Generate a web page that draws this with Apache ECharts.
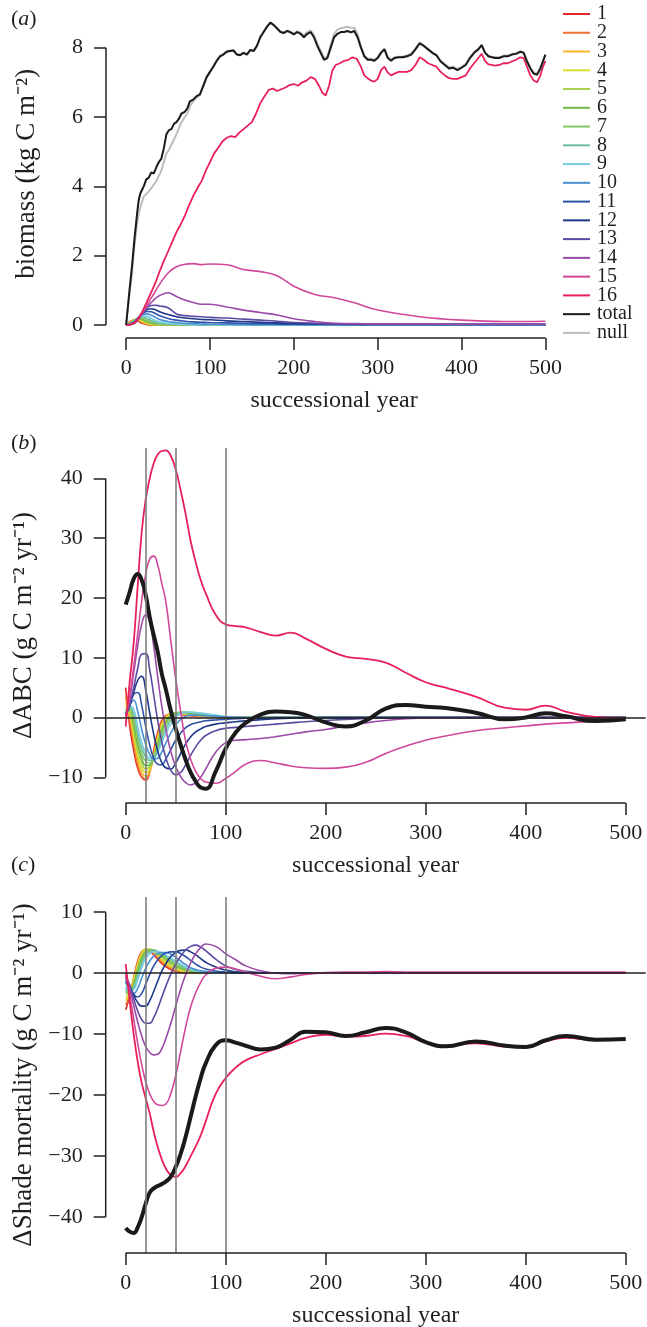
<!DOCTYPE html>
<html><head><meta charset="utf-8">
<script src="https://cdn.jsdelivr.net/npm/echarts@6/dist/echarts.min.js"></script>
<style>html,body{margin:0;padding:0;background:#fff}#c{width:647px;height:1327px}</style>
</head><body><div id="c"></div>
<script>
// ---------- categories / names ----------
const SERIES_NAMES = ['1','2','3','4','5','6','7','8','9','10','11','12','13','14','15','16'];
const LEGEND_NAMES = ['1','2','3','4','5','6','7','8','9','10','11','12','13','14','15','16','total','null'];
const COLORS = ['#e3262b','#ef6f33','#f4b42c','#dcdc2e','#a9d14f','#6fb744','#86c865','#6fbf9f','#79cde3','#4a8fd0','#2f52a8','#1f3887','#5a4aa1','#9a4aa8','#d1489b','#e8205a'];

// ---------- tick labels ----------
const X_TICKS = [0,100,200,300,400,500];
const Y_TICKS_A = [0,2,4,6,8];
const Y_TICKS_B = [-10,0,10,20,30,40];
const Y_TICKS_C = [-40,-30,-20,-10,0,10];
const V_LINES = [20,50,100];

// ---------- panel (a) biomass ----------
const A_YEARS = [0,5,10,15,20,25,30,35,40,50,60,70,80,90,100,120,140,160,180,200,225,250,275,300,350,400,450,500];
const A1 = [0,0.1,0.15,0.1,0.04,0.01,0,0,0,0,0,0,0,0,0,0,0,0,0,0,0,0,0,0,0,0,0,0];
const A2 = [0,0.09,0.16,0.12,0.06,0.02,0.01,0,0,0,0,0,0,0,0,0,0,0,0,0,0,0,0,0,0,0,0,0];
const A3 = [0,0.08,0.16,0.14,0.08,0.03,0.01,0.01,0,0,0,0,0,0,0,0,0,0,0,0,0,0,0,0,0,0,0,0];
const A4 = [0,0.07,0.15,0.16,0.1,0.05,0.02,0.01,0.01,0,0,0,0,0,0,0,0,0,0,0,0,0,0,0,0,0,0,0];
const A5 = [0,0.06,0.15,0.17,0.13,0.07,0.04,0.02,0.01,0.01,0,0,0,0,0,0,0,0,0,0,0,0,0,0,0,0,0,0];
const A6 = [0,0.05,0.14,0.18,0.16,0.1,0.06,0.03,0.02,0.01,0.01,0,0,0,0,0,0,0,0,0,0,0,0,0,0,0,0,0];
const A7 = [0,0.05,0.13,0.19,0.19,0.14,0.09,0.05,0.03,0.02,0.01,0.01,0,0,0,0,0,0,0,0,0,0,0,0,0,0,0,0];
const A8 = [0,0.04,0.12,0.2,0.23,0.19,0.13,0.08,0.05,0.03,0.02,0.01,0.01,0,0,0,0,0,0,0,0,0,0,0,0,0,0,0];
const A9 = [0,0.03,0.11,0.21,0.26,0.25,0.19,0.13,0.09,0.05,0.03,0.02,0.01,0.01,0.01,0,0,0,0,0,0,0,0,0,0,0,0,0];
const A10 = [0,0.03,0.1,0.22,0.3,0.32,0.28,0.22,0.16,0.1,0.07,0.05,0.04,0.03,0.02,0.02,0.01,0.01,0.01,0.01,0,0,0,0,0,0,0,0];
const A11 = [0,0.02,0.09,0.22,0.33,0.39,0.38,0.33,0.27,0.19,0.14,0.11,0.09,0.08,0.07,0.06,0.05,0.04,0.03,0.02,0.02,0.02,0.01,0.01,0.01,0.01,0.01,0.01];
const A12 = [0,0.02,0.08,0.22,0.36,0.45,0.47,0.44,0.38,0.3,0.24,0.2,0.18,0.16,0.15,0.12,0.1,0.08,0.06,0.05,0.04,0.03,0.02,0.02,0.02,0.02,0.02,0.02];
const A13 = [0,0.02,0.08,0.22,0.38,0.5,0.56,0.57,0.55,0.5,0.32,0.27,0.25,0.24,0.22,0.2,0.17,0.14,0.11,0.07,0.05,0.03,0.03,0.02,0.02,0.02,0.02,0.02];
const A14 = [0,0.01,0.05,0.18,0.35,0.52,0.65,0.77,0.85,0.93,0.82,0.72,0.65,0.6,0.6,0.52,0.43,0.36,0.29,0.18,0.1,0.05,0.04,0.03,0.03,0.02,0.02,0.02];
const A15 = [0,0.01,0.05,0.18,0.38,0.58,0.78,0.98,1.18,1.5,1.68,1.75,1.77,1.74,1.76,1.74,1.6,1.54,1.42,1.12,0.88,0.78,0.62,0.43,0.24,0.14,0.1,0.11];
const A16 = [[0,0],[5,0.01],[10,0.06],[15,0.2],[20,0.42],[25,0.68],[30,0.95],[35,1.22],[40,1.55],[45,1.85],[50,2.12],[55,2.4],[60,2.68],[65,2.9],[70,3.15],[75,3.45],[80,3.72],[85,3.95],[90,4.15],[95,4.45],[100,4.7],[105,4.95],[110,5.12],[115,5.3],[120,5.4],[125,5.45],[130,5.42],[135,5.55],[140,5.65],[145,5.75],[150,5.85],[155,6.1],[160,6.4],[165,6.6],[170,6.78],[175,6.82],[180,6.75],[185,6.8],[190,6.85],[195,6.92],[200,6.95],[205,6.9],[210,7.0],[215,7.05],[220,7.15],[225,7.1],[230,6.9],[234,6.7],[238,6.62],[242,6.9],[246,7.35],[250,7.5],[255,7.55],[260,7.62],[265,7.65],[270,7.72],[275,7.68],[280,7.45],[284,7.2],[288,7.12],[292,7.05],[296,7.02],[300,7.1],[304,7.35],[308,7.45],[312,7.28],[316,7.2],[320,7.25],[325,7.3],[330,7.3],[335,7.3],[340,7.35],[345,7.5],[350,7.72],[355,7.65],[360,7.55],[365,7.5],[370,7.45],[375,7.3],[380,7.2],[385,7.12],[390,7.1],[395,7.1],[400,7.15],[405,7.2],[410,7.4],[415,7.55],[420,7.7],[424,7.82],[428,7.62],[432,7.52],[436,7.5],[440,7.48],[445,7.5],[450,7.55],[455,7.55],[460,7.6],[465,7.65],[470,7.72],[474,7.7],[478,7.45],[482,7.2],[486,7.05],[490,7.0],[494,7.2],[497,7.45],[500,7.62]];
const TOTAL_A = [[0,0],[4,1.0],[7,1.7],[10,2.5],[13,3.2],[15,3.6],[17,3.8],[19,3.9],[21,4.0],[24,4.2],[27,4.25],[30,4.4],[33,4.37],[36,4.55],[39,4.7],[42,4.8],[45,5.1],[48,5.5],[51,5.62],[54,5.65],[57,5.8],[60,5.85],[63,5.95],[66,6.1],[70,6.15],[73,6.25],[76,6.45],[80,6.5],[84,6.6],[88,6.65],[92,6.9],[96,7.15],[100,7.3],[104,7.45],[108,7.62],[112,7.75],[116,7.8],[120,7.88],[124,7.9],[128,7.92],[132,7.8],[136,7.78],[140,7.85],[144,7.8],[148,7.93],[152,7.9],[156,8.05],[160,8.3],[164,8.45],[168,8.6],[172,8.72],[176,8.65],[180,8.55],[184,8.45],[188,8.42],[192,8.48],[196,8.44],[200,8.38],[204,8.45],[208,8.4],[212,8.3],[216,8.4],[220,8.45],[224,8.3],[228,8.05],[232,7.85],[236,7.65],[240,7.7],[244,8.0],[248,8.3],[252,8.4],[256,8.45],[260,8.45],[264,8.48],[268,8.44],[272,8.48],[276,8.3],[280,8.0],[284,7.75],[288,7.65],[292,7.65],[296,7.62],[300,7.7],[304,7.85],[308,7.95],[312,7.7],[316,7.62],[320,7.7],[325,7.72],[330,7.72],[335,7.75],[340,7.8],[345,7.95],[350,8.12],[355,8.05],[360,7.95],[365,7.85],[370,7.78],[375,7.6],[380,7.5],[385,7.4],[390,7.42],[395,7.35],[400,7.42],[405,7.5],[410,7.7],[415,7.85],[420,7.95],[424,8.07],[428,7.85],[432,7.75],[436,7.72],[440,7.7],[445,7.7],[450,7.75],[455,7.75],[460,7.8],[465,7.82],[470,7.88],[474,7.85],[478,7.6],[482,7.4],[486,7.25],[490,7.22],[494,7.4],[497,7.6],[500,7.8]];
const NULL_A = [[0,0],[4,0.9],[7,1.5],[10,2.3],[13,2.9],[15,3.2],[17,3.4],[19,3.55],[21,3.7],[24,3.78],[27,3.85],[30,3.95],[33,4.05],[36,4.15],[39,4.3],[42,4.45],[45,4.7],[48,4.95],[51,5.05],[54,5.2],[57,5.35],[60,5.5],[63,5.68],[66,5.85],[70,6.0],[73,6.1],[76,6.3],[80,6.45],[84,6.55],[88,6.63],[92,6.9],[96,7.15],[100,7.3],[104,7.47],[108,7.62],[112,7.77],[116,7.82],[120,7.9],[124,7.92],[128,7.93],[132,7.82],[136,7.8],[140,7.86],[144,7.82],[148,7.94],[152,7.92],[156,8.06],[160,8.32],[164,8.47],[168,8.62],[172,8.73],[176,8.66],[180,8.57],[184,8.47],[188,8.44],[192,8.5],[196,8.46],[200,8.4],[204,8.47],[208,8.43],[212,8.35],[216,8.45],[220,8.5],[224,8.36],[228,8.12],[232,7.92],[236,7.7],[240,7.75],[244,8.08],[248,8.4],[252,8.52],[256,8.56],[260,8.58],[264,8.6],[268,8.57],[272,8.58],[276,8.38],[280,8.05],[284,7.78],[288,7.68],[292,7.68],[296,7.65],[300,7.72],[304,7.88],[308,7.98],[312,7.74],[316,7.65],[320,7.72],[325,7.74],[330,7.74],[335,7.78],[340,7.83],[345,7.98],[350,8.15],[355,8.07],[360,7.97],[365,7.87],[370,7.8],[375,7.63],[380,7.53],[385,7.44],[390,7.45],[395,7.39],[400,7.45],[405,7.53],[410,7.72],[415,7.87],[420,7.97],[424,8.08],[428,7.87],[432,7.77],[436,7.74],[440,7.72],[445,7.72],[450,7.77],[455,7.77],[460,7.82],[465,7.84],[470,7.9],[474,7.87],[478,7.63],[482,7.43],[486,7.28],[490,7.25],[494,7.42],[497,7.62],[500,7.8]];

// ---------- panels (b) and (c): shared year grid ----------
const YB = [0,4,8,12,16,20,24,28,32,36,40,45,50,55,60,65,70,75,80,90,100,110,120,135,150,165,180,200,220,240,260,280,300,320,350,380,400,420,440,470,500];
// (b) delta ABC
const B1 = [5.0,-1.5,-5.5,-8.5,-10.0,-10.5,-9.0,-5.5,-2.5,-0.5,0.3,0.6,0.6,0.5,0.4,0.3,0.2,0.15,0.1,0.05,0,0,0,0,0,0,0,0,0,0,0,0,0,0,0,0,0,0,0,0,0];
const B2 = [3.5,-0.5,-4.5,-8.0,-9.8,-10.3,-9.2,-6.0,-3.0,-0.8,0.2,0.6,0.65,0.55,0.45,0.35,0.25,0.2,0.12,0.05,0,0,0,0,0,0,0,0,0,0,0,0,0,0,0,0,0,0,0,0,0];
const B3 = [2.5,0.2,-3.5,-7.0,-9.2,-9.8,-9.0,-6.3,-3.3,-1.0,0.1,0.6,0.7,0.65,0.55,0.45,0.35,0.25,0.15,0.06,0.02,0,0,0,0,0,0,0,0,0,0,0,0,0,0,0,0,0,0,0,0];
const B4 = [2.0,0.6,-2.8,-6.2,-8.4,-9.2,-8.6,-6.5,-3.6,-1.3,-0.1,0.6,0.75,0.7,0.6,0.5,0.4,0.3,0.2,0.08,0.03,0,0,0,0,0,0,0,0,0,0,0,0,0,0,0,0,0,0,0,0];
const B5 = [1.5,1.0,-2.0,-5.4,-7.6,-8.6,-8.2,-6.6,-4.0,-1.7,-0.4,0.5,0.8,0.8,0.7,0.6,0.5,0.4,0.3,0.12,0.04,0,0,0,0,0,0,0,0,0,0,0,0,0,0,0,0,0,0,0,0];
const B6 = [1.2,1.3,-1.2,-4.5,-6.8,-8.0,-8.0,-6.8,-4.6,-2.3,-0.8,0.3,0.8,0.85,0.8,0.7,0.6,0.5,0.4,0.18,0.06,0.02,0,0,0,0,0,0,0,0,0,0,0,0,0,0,0,0,0,0,0];
const B7 = [1.0,1.6,-0.4,-3.6,-6.0,-7.3,-7.6,-6.8,-5.0,-2.9,-1.3,0.0,0.7,0.9,0.85,0.8,0.7,0.6,0.5,0.25,0.08,0.02,0,0,0,0,0,0,0,0,0,0,0,0,0,0,0,0,0,0,0];
const B8 = [0.8,1.8,0.5,-2.6,-5.1,-6.6,-7.2,-6.8,-5.4,-3.6,-2.0,-0.5,0.4,0.8,0.9,0.85,0.8,0.7,0.6,0.35,0.12,0.04,0,0,0,0,0,0,0,0,0,0,0,0,0,0,0,0,0,0,0];
const B9 = [0.6,1.9,1.4,-1.5,-4.2,-5.9,-6.8,-6.8,-5.8,-4.2,-2.7,-1.1,0.0,0.6,0.85,0.9,0.85,0.75,0.65,0.4,0.15,0.05,0.01,0,0,0,0,0,0,0,0,0,0,0,0,0,0,0,0,0,0];
const B10 = [0.5,2.0,2.9,1.0,-2.0,-4.5,-6.2,-6.9,-6.8,-5.8,-4.3,-2.6,-1.2,-0.3,0.2,0.4,0.4,0.35,0.3,0.2,0.1,0.05,0,0,0,0,0,0,0,0,0,0,0,0,0,0,0,0,0,0,0];
const B11 = [0.5,2.2,3.9,4.2,2.0,-1.5,-4.6,-6.8,-7.8,-7.9,-7.0,-5.4,-3.8,-2.6,-1.7,-1.2,-0.9,-0.7,-0.55,-0.4,-0.3,-0.2,-0.12,-0.05,0,0,0,0,0,0,0,0,0,0,0,0,0,0,0,0,0];
const B12 = [0.4,2.0,4.2,6.2,6.9,4.6,0.8,-2.8,-5.6,-7.5,-8.4,-8.6,-7.6,-6.0,-4.4,-3.2,-2.4,-1.9,-1.5,-1.1,-0.9,-0.7,-0.55,-0.35,-0.2,-0.1,-0.05,0,0,0,0,0,0,0,0,0,0,0,0,0,0];
const B13 = [0.3,2.0,5.0,8.2,10.6,10.7,8.0,3.8,-0.5,-4.0,-6.6,-8.8,-9.6,-9.2,-7.9,-6.3,-4.9,-3.8,-3.0,-2.2,-1.8,-1.65,-1.5,-1.3,-1.1,-0.9,-0.7,-0.5,-0.3,-0.15,-0.05,0,0,0,0,0,0,0,0,0,0];
const B14 = [0.2,3.0,7.5,12.0,15.6,17.2,16.0,12.0,6.8,2.0,-1.8,-5.6,-8.2,-9.9,-10.9,-11.3,-10.9,-10.0,-8.6,-5.8,-4.2,-3.8,-3.7,-3.5,-3.2,-2.8,-2.4,-2.0,-1.4,-0.9,-0.5,-0.2,-0.1,-0.05,0,0,0,0,0,0,0];
const B15 = [0,3.5,8.5,14.0,19.5,24.0,26.5,27.0,25.5,22.5,19.5,13.0,6.5,1.0,-4.0,-7.0,-9.0,-10.2,-10.8,-11.0,-10.2,-9.0,-7.8,-7.2,-7.6,-8.1,-8.4,-8.5,-8.3,-7.5,-6.0,-4.8,-3.8,-3.1,-2.2,-1.7,-1.4,-1.1,-0.9,-0.6,-0.4];
const B16 = [-1.5,6.0,12.5,22.0,31.0,36.5,40.0,42.5,44.0,44.6,44.7,43.8,41.5,38.0,34.0,29.5,26.0,23.0,20.8,17.2,15.6,15.3,15.1,14.3,13.7,14.2,13.2,11.5,10.2,9.8,9.2,7.5,5.9,5.0,3.5,1.6,1.3,2.0,1.0,0.1,-0.1];
const TOTAL_B = [18.9,21.0,23.2,24.0,23.0,20.5,16.8,13.8,11.0,7.4,4.8,1.2,-1.8,-4.6,-7.1,-9.2,-10.7,-11.7,-11.9,-9.0,-5.2,-2.5,-0.9,0.5,1.0,0.9,0.4,-0.8,-1.5,-0.5,1.5,2.1,1.8,1.6,0.8,-0.3,0.0,0.7,0.2,-0.6,-0.3];
// (c) delta shade mortality
const C1 = [-6.0,-3.8,-0.8,2.0,3.5,3.9,3.6,3.0,2.3,1.6,1.1,0.6,0.3,0.15,0.08,0.04,0.02,0,0,0,0,0,0,0,0,0,0,0,0,0,0,0,0,0,0,0,0,0,0,0,0];
const C2 = [-5.2,-3.6,-0.9,1.8,3.4,3.9,3.7,3.2,2.5,1.8,1.3,0.8,0.45,0.25,0.12,0.06,0.03,0.01,0,0,0,0,0,0,0,0,0,0,0,0,0,0,0,0,0,0,0,0,0,0,0];
const C3 = [-4.5,-3.5,-1.0,1.6,3.3,3.9,3.8,3.4,2.8,2.1,1.5,1.0,0.6,0.35,0.2,0.1,0.05,0.02,0,0,0,0,0,0,0,0,0,0,0,0,0,0,0,0,0,0,0,0,0,0,0];
const C4 = [-4.0,-3.4,-1.2,1.3,3.1,3.9,3.9,3.6,3.0,2.4,1.8,1.2,0.8,0.5,0.3,0.15,0.08,0.04,0.02,0,0,0,0,0,0,0,0,0,0,0,0,0,0,0,0,0,0,0,0,0,0];
const C5 = [-3.5,-3.3,-1.5,0.9,2.8,3.7,3.9,3.7,3.2,2.7,2.1,1.5,1.0,0.65,0.4,0.25,0.12,0.06,0.03,0,0,0,0,0,0,0,0,0,0,0,0,0,0,0,0,0,0,0,0,0,0];
const C6 = [-3.1,-3.2,-1.8,0.5,2.4,3.5,3.8,3.8,3.4,2.9,2.4,1.8,1.25,0.85,0.55,0.35,0.2,0.1,0.05,0.01,0,0,0,0,0,0,0,0,0,0,0,0,0,0,0,0,0,0,0,0,0];
const C7 = [-2.8,-3.1,-2.1,0.0,2.0,3.2,3.7,3.8,3.5,3.1,2.6,2.0,1.5,1.05,0.7,0.45,0.28,0.15,0.08,0.02,0,0,0,0,0,0,0,0,0,0,0,0,0,0,0,0,0,0,0,0,0];
const C8 = [-2.5,-3.0,-2.4,-0.5,1.5,2.9,3.5,3.7,3.6,3.3,2.8,2.3,1.75,1.25,0.85,0.55,0.35,0.2,0.12,0.04,0,0,0,0,0,0,0,0,0,0,0,0,0,0,0,0,0,0,0,0,0];
const C9 = [-2.2,-2.9,-2.7,-1.1,0.9,2.4,3.2,3.5,3.5,3.3,3.0,2.5,2.0,1.5,1.05,0.7,0.45,0.28,0.17,0.06,0.02,0,0,0,0,0,0,0,0,0,0,0,0,0,0,0,0,0,0,0,0];
const C10 = [-1.5,-2.8,-3.3,-2.5,-0.8,0.8,2.0,2.8,3.2,3.4,3.4,3.1,2.6,2.0,1.4,0.9,0.6,0.4,0.3,0.15,0.08,0.03,0,0,0,0,0,0,0,0,0,0,0,0,0,0,0,0,0,0,0];
const C11 = [-1.2,-2.5,-3.5,-3.9,-3.3,-1.8,-0.2,1.2,2.2,2.9,3.3,3.5,3.5,3.2,2.7,2.1,1.5,1.0,0.7,0.35,0.2,0.1,0.05,0,0,0,0,0,0,0,0,0,0,0,0,0,0,0,0,0,0];
const C12 = [-0.8,-2.0,-3.6,-4.8,-5.4,-5.4,-4.5,-3.0,-1.3,0.3,1.5,2.7,3.4,3.75,3.8,3.5,3.0,2.4,1.8,1.0,0.5,0.25,0.15,0.05,0,0,0,0,0,0,0,0,0,0,0,0,0,0,0,0,0];
const C13 = [-0.5,-2.0,-4.2,-6.2,-7.6,-8.2,-8.2,-7.3,-5.8,-4.0,-2.2,-0.2,1.5,2.8,3.8,4.4,4.6,4.3,3.7,2.3,1.2,0.6,0.3,0.1,0,0,0,0,0,0,0,0,0,0,0,0,0,0,0,0,0];
const C14 = [-0.3,-2.5,-5.3,-8.0,-10.3,-12.0,-13.0,-13.4,-13.3,-12.4,-10.8,-8.3,-5.4,-2.6,-0.2,1.7,3.2,4.2,4.8,4.4,3.2,2.2,1.2,0.4,0.0,-0.1,0,0,0,0,0,0,0,0,0,0,0,0,0,0,0];
const C15 = [0,-3.5,-7.5,-11.5,-15.0,-17.8,-19.8,-21.0,-21.6,-21.7,-21.5,-19.8,-16.8,-12.8,-8.8,-5.5,-3.2,-1.5,-0.3,0.8,1.0,0.7,0.2,-0.5,-0.9,-0.6,-0.2,0.1,0.2,0.2,0.25,0.2,0.2,0.2,0.2,0.2,0.2,0.2,0.2,0.2,0.2];
const C16 = [1.5,-4.5,-10.0,-14.5,-18.0,-20.5,-23.0,-26.0,-28.5,-30.5,-32.0,-33.1,-33.4,-32.8,-31.6,-30.0,-28.4,-26.6,-24.3,-19.8,-17.2,-15.5,-14.3,-13.3,-12.4,-11.5,-10.6,-10.1,-10.4,-10.3,-9.9,-10.3,-11.3,-11.9,-11.5,-12.1,-12.2,-11.2,-10.6,-11.0,-10.9];
const TOTAL_C = [-41.8,-42.4,-42.6,-41.7,-40.0,-37.8,-36.0,-35.3,-34.9,-34.6,-34.2,-33.4,-31.8,-29.6,-26.8,-23.5,-20.2,-17.2,-14.8,-11.8,-11.0,-11.4,-11.9,-12.5,-12.2,-10.9,-9.6,-9.7,-10.3,-9.7,-9.0,-9.7,-11.3,-12.0,-11.2,-11.9,-12.1,-11.0,-10.3,-10.9,-10.8];

const A_SERIES = [A1,A2,A3,A4,A5,A6,A7,A8,A9,A10,A11,A12,A13,A14,A15];
const B_SERIES = [B1,B2,B3,B4,B5,B6,B7,B8,B9,B10,B11,B12,B13,B14,B15,B16];
const C_SERIES = [C1,C2,C3,C4,C5,C6,C7,C8,C9,C10,C11,C12,C13,C14,C15,C16];

// ---------- layout / style ----------
const FONT = "'Liberation Serif','Times New Roman',serif";
const INK = '#231f20';
const AX = {
  a: {xMin:-24, xMax:520, yMin:-0.375, yMax:9.1},
  b: {xMin:-20, xMax:520, yMin:-14.3, yMax:45.1},
  c: {xMin:-20, xMax:520, yMin:-45.9, yMax:12.5}
};
const minus = v => String(v).replace('-', '\u2212');

function xAxisCfg(gi, ax) {
  return {
    type:'value', gridIndex:gi, min:ax.xMin, max:ax.xMax,
    axisLine:{show:false, onZero:false}, splitLine:{show:false},
    axisTick:{show:true, length:12, customValues:X_TICKS, lineStyle:{color:INK, width:1.5}},
    axisLabel:{show:true, customValues:X_TICKS, margin:19, fontFamily:FONT, fontSize:22, color:INK, formatter:minus},
    name:'successional year', nameLocation:'middle', nameGap:51,
    nameTextStyle:{fontFamily:FONT, fontSize:24, color:INK}
  };
}
function yAxisCfg(gi, ax, ticks, name, gap) {
  return {
    type:'value', gridIndex:gi, min:ax.yMin, max:ax.yMax,
    axisLine:{show:false, onZero:false}, splitLine:{show:false},
    axisTick:{show:true, length:12, customValues:ticks, lineStyle:{color:INK, width:1.5}},
    axisLabel:{show:true, customValues:ticks, margin:23, fontFamily:FONT, fontSize:22, color:INK, formatter:minus},
    name:name, nameLocation:'middle', nameGap:gap,
    nameTextStyle:{fontFamily:FONT, fontSize:27, color:INK}
  };
}
function axisLines(gi, ax, yTicks) {
  return [
    {type:'line', xAxisIndex:gi, yAxisIndex:gi, data:[[ax.xMin, yTicks[0]],[ax.xMin, yTicks[yTicks.length-1]]],
     symbol:'none', clip:false, silent:true, z:6, lineStyle:{color:INK, width:1.5}},
    {type:'line', xAxisIndex:gi, yAxisIndex:gi, data:[[X_TICKS[0], ax.yMin],[X_TICKS[X_TICKS.length-1], ax.yMin]],
     symbol:'none', clip:false, silent:true, z:6, lineStyle:{color:INK, width:1.5}}
  ];
}
function refLines(gi) {
  return {type:'line', xAxisIndex:gi, yAxisIndex:gi, data:[], symbol:'none', silent:true, z:1,
    markLine:{symbol:'none', silent:true, label:{show:false}, animation:false,
      data: V_LINES.map(v => ({xAxis:v, lineStyle:{color:'#7f7f7f', width:1.6, type:'solid'}}))
        .concat([{yAxis:0, lineStyle:{color:INK, width:1.5, type:'solid'}}])}};
}
function pairs(xs, ys) { return xs.map((x,i) => [x, ys[i]]); }
function dataLine(gi, name, color, data, width, smooth, z) {
  return {type:'line', name:name, xAxisIndex:gi, yAxisIndex:gi, data:data, symbol:'none', showSymbol:false,
    smooth:smooth, z:z, itemStyle:{color:color}, lineStyle:{color:color, width:width}, emphasis:{disabled:true}};
}

const series = [];
// panel a
A_SERIES.forEach((arr,i) => series.push(dataLine(0, SERIES_NAMES[i], COLORS[i], pairs(A_YEARS, arr), 1.6, 0.4, 2)));
series.push(dataLine(0, '16', COLORS[15], A16, 1.8, false, 3));
series.push(dataLine(0, 'null', '#bdbdbd', NULL_A, 2, false, 3));
series.push(dataLine(0, 'total', '#1a1a1a', TOTAL_A, 2, false, 4));
series.push(...axisLines(0, AX.a, Y_TICKS_A));
// panel b
series.push(refLines(1));
B_SERIES.forEach((arr,i) => series.push(dataLine(1, SERIES_NAMES[i], COLORS[i], pairs(YB, arr), i===15?1.8:1.6, true, 2)));
series.push(dataLine(1, 'total', '#1a1a1a', pairs(YB, TOTAL_B), 4, true, 4));
series.push(...axisLines(1, AX.b, Y_TICKS_B));
// panel c
series.push(refLines(2));
C_SERIES.forEach((arr,i) => series.push(dataLine(2, SERIES_NAMES[i], COLORS[i], pairs(YB, arr), i===15?1.8:1.6, true, 2)));
series.push(dataLine(2, 'total', '#1a1a1a', pairs(YB, TOTAL_C), 4, true, 4));
series.push(...axisLines(2, AX.c, Y_TICKS_C));

const panelTitle = (letter, top) => ({
  text:'({i|' + letter + '})', left:6, top:top,
  textStyle:{fontFamily:FONT, fontSize:22, fontWeight:'normal', color:INK,
    rich:{i:{fontFamily:FONT, fontSize:22, fontStyle:'italic', color:INK}}}
});

const option = {
  animation:false,
  backgroundColor:'#fff',
  title:[panelTitle('a', 3), panelTitle('b', 427), panelTitle('c', 849)],
  legend:{data:LEGEND_NAMES, orient:'vertical', left:563, top:4, itemWidth:27, itemHeight:2, itemGap:-1.24,
    icon:'rect', selectedMode:false, padding:0,
    textStyle:{fontFamily:FONT, fontSize:20, color:INK, padding:[0,0,0,2]}},
  grid:[
    {left:106, top:9.5, width:456.2, height:328.5, containLabel:false, outerBoundsMode:'none'},
    {left:105.7, top:448, width:540, height:355, containLabel:false, outerBoundsMode:'none'},
    {left:105.7, top:897, width:540, height:356, containLabel:false, outerBoundsMode:'none'}
  ],
  xAxis:[xAxisCfg(0, AX.a), xAxisCfg(1, AX.b), xAxisCfg(2, AX.c)],
  yAxis:[
    yAxisCfg(0, AX.a, Y_TICKS_A, 'biomass (kg C m\u207B\u00B2)', 66),
    yAxisCfg(1, AX.b, Y_TICKS_B, '\u0394ABC (g C m\u207B\u00B2 yr\u207B\u00B9)', 61),
    yAxisCfg(2, AX.c, Y_TICKS_C, '\u0394Shade mortality (g C m\u207B\u00B2 yr\u207B\u00B9)', 66)
  ],
  series:series
};
const chart = echarts.init(document.getElementById('c'), null, {renderer:'canvas'});
chart.setOption(option);
</script></body></html>
